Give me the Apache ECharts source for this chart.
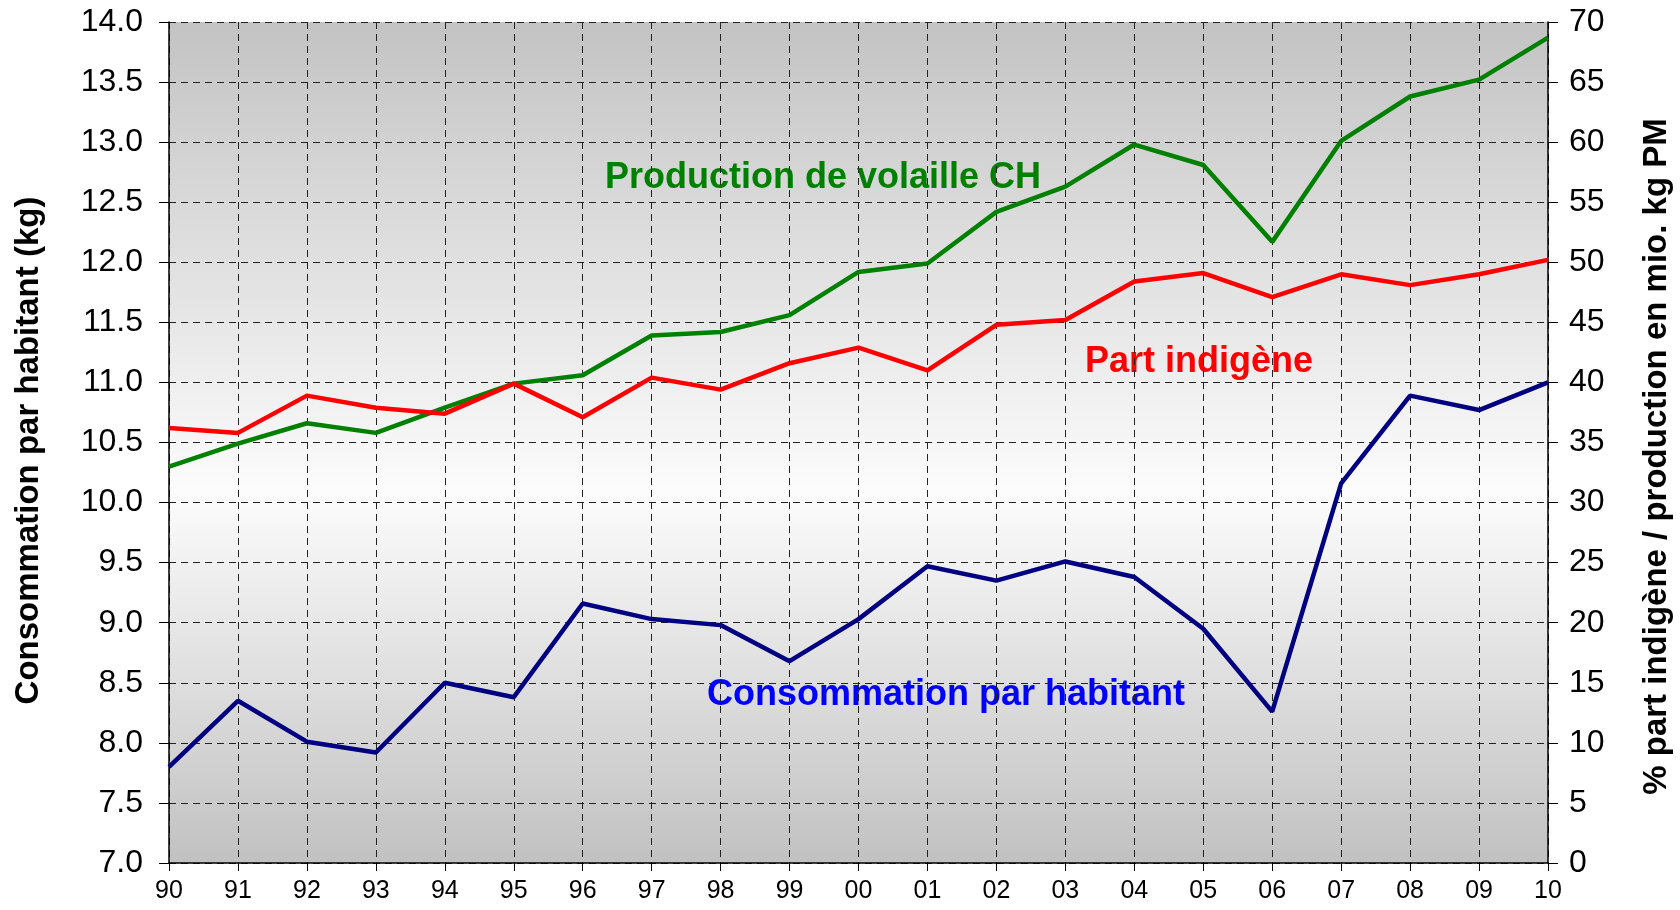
<!DOCTYPE html>
<html>
<head>
<meta charset="utf-8">
<script src="https://cdn.jsdelivr.net/npm/echarts@6/dist/echarts.min.js"></script>
<style>
  html, body { margin: 0; padding: 0; background: #fff; }
  #main { width: 1680px; height: 910px; }
</style>
</head>
<body>
<div id="main"></div>
<script>
// années (axe x)
var years = ['90','91','92','93','94','95','96','97','98','99','00','01','02','03','04','05','06','07','08','09','10'];

// consommation par habitant (kg) - axe gauche
var consommation = [7.80, 8.35, 8.01, 7.92, 8.50, 8.38, 9.16, 9.03, 8.98, 8.68, 9.03, 9.47, 9.35, 9.51, 9.38, 8.95, 8.26, 10.16, 10.89, 10.77, 11.00];

// part indigène (%) - axe droit
var partIndigene = [36.2, 35.8, 38.9, 37.9, 37.4, 39.9, 37.1, 40.4, 39.4, 41.6, 42.9, 41.0, 44.8, 45.2, 48.4, 49.1, 47.1, 49.0, 48.1, 49.0, 50.2];

// production de volaille CH (mio. kg PM) - axe droit
var production = [33.0, 34.9, 36.6, 35.8, 37.9, 39.9, 40.6, 43.9, 44.2, 45.6, 49.2, 49.9, 54.2, 56.3, 59.8, 58.1, 51.7, 60.1, 63.8, 65.2, 68.7];

var font = 'Liberation Sans, Arial, sans-serif';
var dashGrid = { show: true, lineStyle: { color: '#222', width: 1, type: [7, 5] } };

var chart = echarts.init(document.getElementById('main'));
chart.setOption({
  animation: false,
  backgroundColor: '#fff',
  grid: {
    left: 169, right: 132, top: 22, bottom: 47,
    outerBoundsMode: 'none',
    containLabel: false,
    show: true,
    borderWidth: 0,
    backgroundColor: {
      type: 'linear', x: 0, y: 0, x2: 0, y2: 1,
      colorStops: [
        { offset: 0, color: '#c3c3c3' },
        { offset: 0.56, color: '#fcfcfc' },
        { offset: 1, color: '#c1c1c1' }
      ]
    }
  },
  xAxis: {
    type: 'category',
    data: years,
    boundaryGap: false,
    axisLine: { lineStyle: { color: '#000', width: 1.5 } },
    axisTick: { show: true, length: 8, alignWithLabel: true, lineStyle: { color: '#000' } },
    axisLabel: { color: '#000', fontSize: 25, fontFamily: font, margin: 16 },
    splitLine: dashGrid
  },
  yAxis: [
    {
      type: 'value',
      min: 7, max: 14, interval: 0.5,
      name: 'Consommation par habitant (kg)',
      nameLocation: 'middle',
      nameGap: 124,
      nameTextStyle: { color: '#000', fontSize: 33, fontWeight: 'bold', fontFamily: font, padding: [0, 16, 0, 0] },
      axisLine: { show: true, lineStyle: { color: '#000', width: 1.5 } },
      axisTick: { show: true, length: 10, lineStyle: { color: '#000' } },
      axisLabel: {
        color: '#000', fontSize: 32, fontFamily: font, margin: 26,
        formatter: function (v) { return v.toFixed(1); }
      },
      splitLine: dashGrid
    },
    {
      type: 'value',
      min: 0, max: 70, interval: 5,
      position: 'right',
      name: '% part indigène / production en mio. kg PM',
      nameLocation: 'middle',
      nameGap: 92,
      nameRotate: 90,
      nameTextStyle: { color: '#000', fontSize: 33, fontWeight: 'bold', fontFamily: font, padding: [0, 28, 0, 0] },
      axisLine: { show: true, lineStyle: { color: '#000', width: 1.5 } },
      axisTick: { show: true, length: 10, lineStyle: { color: '#000' } },
      axisLabel: { color: '#000', fontSize: 32, fontFamily: font, margin: 21 },
      splitLine: { show: false }
    }
  ],
  series: [
    {
      name: 'Production de volaille CH',
      type: 'line',
      yAxisIndex: 1,
      data: production,
      symbol: 'none',
      lineStyle: { color: '#008000', width: 4.5 }
    },
    {
      name: 'Part indigène',
      type: 'line',
      yAxisIndex: 1,
      data: partIndigene,
      symbol: 'none',
      lineStyle: { color: '#ff0000', width: 4.5 }
    },
    {
      name: 'Consommation par habitant',
      type: 'line',
      yAxisIndex: 0,
      data: consommation,
      symbol: 'none',
      lineStyle: { color: '#000080', width: 4.5 }
    }
  ],
  graphic: [
    { type: 'text', left: 605, top: 160,
      style: { text: 'Production de volaille CH', fill: '#008000', font: 'bold 36px ' + font } },
    { type: 'text', left: 1085, top: 344,
      style: { text: 'Part indigène', fill: '#ff0000', font: 'bold 36px ' + font } },
    { type: 'text', left: 707, top: 677,
      style: { text: 'Consommation par habitant', fill: '#0000ff', font: 'bold 36px ' + font } }
  ]
});
</script>
</body>
</html>
